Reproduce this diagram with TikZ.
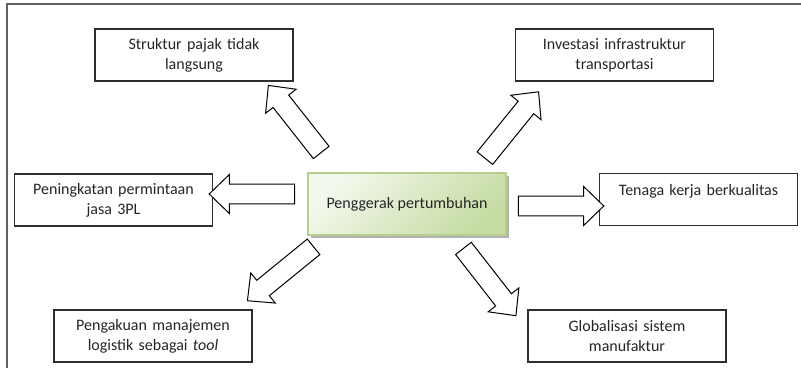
\documentclass[tikz,border=0pt]{standalone}
\usepackage{fontspec}
\setmainfont{Carlito}
\usetikzlibrary{shapes.arrows,shadows}
\definecolor{hubline}{HTML}{B4CF8E}
\definecolor{hubtop}{HTML}{F3F8EC}
\definecolor{hubbot}{HTML}{C6DCA3}
\definecolor{boxline}{HTML}{2E2E2E}
\definecolor{frameline}{HTML}{606060}

\begin{document}
\begin{tikzpicture}[x=0.75pt,y=-0.75pt,
    every node/.style={font=\fontsize{12}{15}\selectfont, text=black!85},
    box/.style={draw=boxline, line width=1pt, fill=white, minimum width=148.5pt,
        minimum height=39pt, text width=140pt, align=center, inner sep=0pt},
    hubbox/.style={draw=hubline, line width=0.8pt, top color=hubtop, bottom color=hubbot,
        shading angle=45, minimum width=148.5pt, minimum height=46.5pt,
        drop shadow={shadow xshift=2pt, shadow yshift=-2pt, fill=black!30, opacity=1}},
    bigarrow/.style={single arrow, draw=black, fill=white, line width=0.75pt,
        inner xsep=0pt, inner ysep=7.1pt, single arrow head extend=7.1pt,
        single arrow tip angle=88, minimum height=64pt, sloped, allow upside down, midway}]
    \useasboundingbox (0,0) rectangle (801,368);
    \draw[frameline, line width=1.1pt] (801,4) -- (7,4) -- (7,368);

    \node[hubbox] (hub) at (407,204) {Penggerak pertumbuhan};
    \node[box] (pajak) at (194,55) {Struktur pajak tidak\\langsung};
    \node[box] (infra) at (614.5,55) {Investasi infrastruktur\\transportasi};
    \node[box] (jasa) at (113.5,200) {Peningkatan permintaan\\jasa 3PL};
    \node[box] (tenaga) at (698.5,199.5) {Tenaga kerja berkualitas\\\mbox{}};
    \node[box] (logistik) at (153,336) {Pengakuan manajemen\\logistik sebagai \textit{tool}};
    \node[box] (global) at (627,336) {Globalisasi sistem\\manufaktur};

    \coordinate (pajakA) at (324,156);    \coordinate (pajakB) at (272,90);
    \coordinate (infraA) at (481,163);    \coordinate (infraB) at (536,95);
    \coordinate (jasaA) at (300,194);     \coordinate (jasaB) at (214,194);
    \coordinate (tenagaA) at (513,206);   \coordinate (tenagaB) at (599,206);
    \coordinate (logistikA) at (317,244); \coordinate (logistikB) at (252,297);
    \coordinate (globalA) at (460,244);   \coordinate (globalB) at (513,312);

    \foreach \n in {pajak,infra,jasa,tenaga,logistik,global}
        \path (\n A) -- (\n B) node[bigarrow] {};
\end{tikzpicture}
\end{document}
